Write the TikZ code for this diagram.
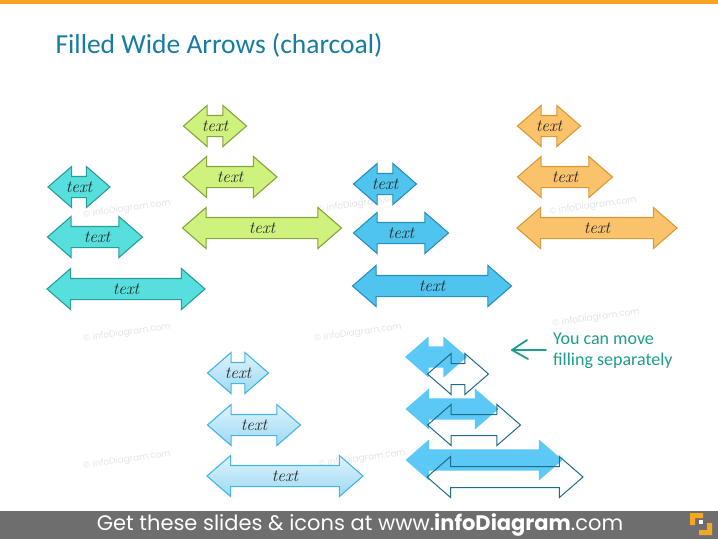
\documentclass[tikz,border=0pt]{standalone}
\usepackage{fontspec}
\usetikzlibrary{shapes.arrows}
\newfontfamily\carlito{Carlito}
\newfontfamily\poppins{Poppins}

\definecolor{tealfill}{HTML}{56DFDC}
\definecolor{tealline}{HTML}{2A9D9B}
\definecolor{greenfill}{HTML}{CFF27F}
\definecolor{greenline}{HTML}{86A53A}
\definecolor{bluefill}{HTML}{4EC4EF}
\definecolor{blueline}{HTML}{2B8FBC}
\definecolor{orangefill}{HTML}{FAC26A}
\definecolor{orangeline}{HTML}{D99A35}
\definecolor{lbluetop}{HTML}{DDF3FC}
\definecolor{lbluebot}{HTML}{9DD9F3}
\definecolor{lblueline}{HTML}{45B5E5}
\definecolor{movefill}{HTML}{5BC8F5}
\definecolor{moveline}{HTML}{1D6C8C}
\definecolor{notecol}{HTML}{1E9C8C}
\definecolor{titlecol}{HTML}{167CA2}
\definecolor{bargray}{HTML}{6E6E6E}
\definecolor{barorange}{HTML}{F6A623}
\definecolor{wmgray}{HTML}{E4E4E4}

\tikzset{
  warrow/.style={double arrow, double arrow tip angle=82,
    double arrow head extend=10pt, minimum width=40pt,
    inner xsep=0pt, inner ysep=10pt, line width=1.1pt},
  tealarrow/.style={warrow, fill=tealfill, draw=tealline},
  greenarrow/.style={warrow, fill=greenfill, draw=greenline},
  bluearrow/.style={warrow, fill=bluefill, draw=blueline},
  orangearrow/.style={warrow, fill=orangefill, draw=orangeline},
  lbluearrow/.style={warrow, top color=lbluetop, bottom color=lbluebot, draw=lblueline},
  fillarrow/.style={warrow, fill=movefill, draw=none},
  linearrow/.style={warrow, draw=moveline, line width=1pt},
  lbl/.style={font=\fontsize{17}{17}\selectfont\itshape, text=black!85},
  wmark/.style={font=\fontsize{9}{9}\selectfont\poppins, text=wmgray, rotate=8},
}

\begin{document}
\begin{tikzpicture}[x=1pt, y=-1pt]
  \useasboundingbox (0,0) rectangle (718,539);

  % Frame
  \fill[barorange] (0,0) rectangle (718,4);
  \fill[bargray] (0,511) rectangle (718,539);
  \node[anchor=west, font=\carlito\fontsize{27.5}{27.5}\selectfont, text=titlecol] (title) at (52,45) {Filled Wide Arrows (charcoal)};

  % Watermarks
  \node[wmark] (wm1) at (127,209) {\textcopyright\ infoDiagram.com};
  \node[wmark] (wm2) at (361,204) {\textcopyright\ infoDiagram.com};
  \node[wmark] (wm3) at (593,206) {\textcopyright\ infoDiagram.com};
  \node[wmark] (wm4) at (127,333) {\textcopyright\ infoDiagram.com};
  \node[wmark] (wm5) at (358,333) {\textcopyright\ infoDiagram.com};
  \node[wmark] (wm6) at (127,460) {\textcopyright\ infoDiagram.com};
  \node[wmark] (wm7) at (362,459) {\textcopyright\ infoDiagram.com};
  \node[wmark] (wm8) at (520,463) {\textcopyright\ infoDiagram.com};
  \node[wmark] (wm9) at (596,318) {\textcopyright\ infoDiagram.com};

  % Teal
  \node[tealarrow, minimum height=62pt] (teal1) at (79,187) {};
  \node[tealarrow, minimum height=95pt] (teal2) at (95,237) {};
  \node[tealarrow, minimum height=158pt] (teal3) at (126,289) {};
  \node[lbl] at (teal1) {text};
  \node[lbl] at ([xshift=2pt]teal2) {text};
  \node[lbl] at (teal3) {text};

  % Green
  \node[greenarrow, minimum height=63pt] (green1) at (215,126) {};
  \node[greenarrow, minimum height=94pt] (green2) at (230,177) {};
  \node[greenarrow, minimum height=159pt] (green3) at (262,228) {};
  \node[lbl] at (green1) {text};
  \node[lbl] at (green2) {text};
  \node[lbl] at (green3) {text};

  % Blue
  \node[bluearrow, minimum height=63pt] (blue1) at (385,184) {};
  \node[bluearrow, minimum height=95pt] (blue2) at (401,233) {};
  \node[bluearrow, minimum height=159pt] (blue3) at (432,286) {};
  \node[lbl] at (blue1) {text};
  \node[lbl] at (blue2) {text};
  \node[lbl] at (blue3) {text};

  % Orange
  \node[orangearrow, minimum height=63pt] (orange1) at (549,126) {};
  \node[orangearrow, minimum height=95pt] (orange2) at (565,177) {};
  \node[orangearrow, minimum height=160pt] (orange3) at (597,228) {};
  \node[lbl] at (orange1) {text};
  \node[lbl] at (orange2) {text};
  \node[lbl] at (orange3) {text};

  % Light blue
  \node[lbluearrow, minimum height=61pt] (lblue1) at (238,373) {};
  \node[lbluearrow, minimum height=93pt] (lblue2) at (254,425) {};
  \node[lbluearrow, minimum height=156pt] (lblue3) at (285,476) {};
  \node[lbl] at (lblue1) {text};
  \node[lbl] at (lblue2) {text};
  \node[lbl] at (lblue3) {text};

  % Filling and outline apart
  \node[fillarrow, minimum height=62pt] (fill1) at (436,357) {};
  \node[fillarrow, minimum height=93pt] (fill2) at (452,409) {};
  \node[fillarrow, minimum height=157pt] (fill3) at (484,460) {};
  \node[linearrow, minimum height=61pt] (line1) at (458,374) {};
  \node[linearrow, minimum height=93pt] (line2) at (474,425) {};
  \node[linearrow, minimum height=156pt] (line3) at (505,477) {};

  % Note
  \node[anchor=north west, align=left, inner sep=0pt, text=notecol,
    font=\carlito\fontsize{18}{21}\selectfont] (note) at (553,333) {You can move\\filling separately};
  \coordinate (tip) at (512,350);
  \draw[notecol, line width=1.8pt, line cap=round, line join=round]
    ([xshift=-7pt]note.west |- tip) -- (tip);
  \draw[notecol, line width=1.8pt, line cap=round, line join=round]
    (527,340) -- (tip) -- (528,359);

  % Footer
  \node[font=\poppins\fontsize{21}{21}\selectfont, text=white] (footer) at (360,525)
    {Get these slides \& icons at www.\textbf{infoDiagram}.com};
  \fill[barorange] (690,513) rectangle (703,518) (690,513) rectangle (695,525);
  \fill[barorange] (699,530) rectangle (712,535) (707,523) rectangle (712,535);
  \fill[white] (699,520) rectangle (703,524);
\end{tikzpicture}
\end{document}
